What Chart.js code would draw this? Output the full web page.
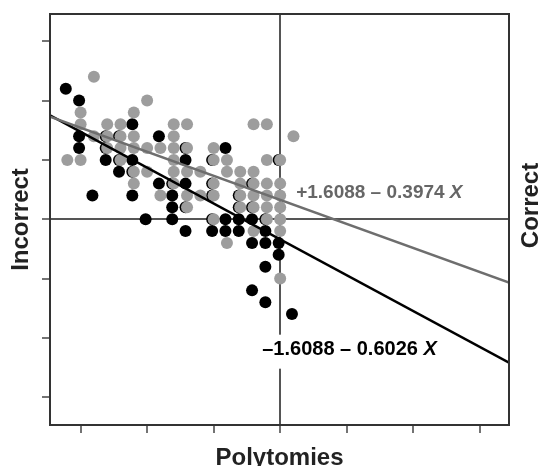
<!DOCTYPE html>
<html>
<head>
<meta charset="utf-8">
<script src="https://cdn.jsdelivr.net/npm/chart.js@4/dist/chart.umd.min.js"></script>
<style>
  html, body { margin: 0; padding: 0; background: #fff; overflow: hidden; }
  #wrap { width: 539px; height: 466px; }
</style>
</head>
<body>
<div id="wrap"><canvas id="chart" width="539" height="466"></canvas></div>
<script>
  "use strict";

  // axis ranges and tick positions (only tick marks are shown)
  const xRange = [-3.46, 3.44];
  const yRange = [-3.47, 3.46];
  const xTicks = [-3, -2, -1, 0, 1, 2, 3];
  const yTicks = [-3, -2, -1, 0, 1, 2, 3];

  // gray points ("Correct"), [x, y]
  const grayPoints = [
    [-2.8, 2.4],
    [-2.0, 2.0],
    [-3.0, 1.8], [-2.2, 1.8],
    [-3.0, 1.6], [-2.6, 1.6], [-2.4, 1.6], [-1.6, 1.6], [-1.4, 1.6], [-0.4, 1.6], [-0.2, 1.6],
    [-2.8, 1.4], [-2.6, 1.4], [-2.4, 1.4], [-2.2, 1.4], [-1.6, 1.4], [0.2, 1.4],
    [-2.6, 1.2], [-2.4, 1.2], [-2.2, 1.2], [-2.0, 1.2], [-1.8, 1.2], [-1.6, 1.2], [-1.4, 1.2], [-1.0, 1.2],
    [-3.2, 1.0], [-3.0, 1.0], [-2.4, 1.0], [-1.6, 1.0], [-1.0, 1.0], [-0.8, 1.0], [-0.2, 1.0], [0, 1.0],
    [-2.2, 0.8], [-2.0, 0.8], [-1.6, 0.8], [-1.4, 0.8], [-1.2, 0.8], [-0.8, 0.8], [-0.6, 0.8], [-0.4, 0.8],
    [-2.2, 0.6], [-1.6, 0.6], [-1.0, 0.6], [-0.6, 0.6], [-0.4, 0.6], [-0.2, 0.6], [0, 0.6],
    [-1.8, 0.4], [-1.4, 0.4], [-1.2, 0.4], [-1.0, 0.4], [-0.6, 0.4], [-0.4, 0.4], [-0.2, 0.4], [0, 0.4],
    [-1.4, 0.2], [-0.6, 0.2], [-0.4, 0.2], [-0.2, 0.2], [0, 0.2],
    [-1.0, 0], [-0.2, 0], [0, 0],
    [-0.4, -0.2], [0, -0.2],
    [-0.8, -0.4],
    [0, -1.0]
  ];

  // black points ("Incorrect"), [x, y]
  const blackPoints = [
    [-3.2, 2.2],
    [-3.0, 2.0],
    [-2.2, 1.6],
    [-3.0, 1.4], [-2.6, 1.4], [-2.4, 1.4], [-1.8, 1.4],
    [-3.0, 1.2], [-2.6, 1.2], [-1.4, 1.2], [-0.8, 1.2],
    [-2.6, 1.0], [-2.4, 1.0], [-2.2, 1.0], [-1.4, 1.0], [-1.0, 1.0], [0, 1.0],
    [-2.4, 0.8], [-2.2, 0.8],
    [-1.8, 0.6], [-1.6, 0.6], [-1.4, 0.6], [-1.0, 0.6], [-0.4, 0.6],
    [-2.8, 0.4], [-2.2, 0.4], [-1.6, 0.4], [-1.0, 0.4], [-0.6, 0.4],
    [-1.6, 0.2], [-1.4, 0.2], [-0.6, 0.2], [-0.4, 0.2],
    [-2.0, 0], [-1.6, 0], [-1.0, 0], [-0.8, 0], [-0.6, 0], [-0.4, 0], [-0.2, 0],
    [-1.4, -0.2], [-1.0, -0.2], [-0.8, -0.2], [-0.6, -0.2], [-0.2, -0.2],
    [-0.4, -0.4], [-0.2, -0.4], [0, -0.4],
    [0, -0.6],
    [-0.2, -0.8],
    [-0.4, -1.2],
    [-0.2, -1.4],
    [0.2, -1.6]
  ];

  // fitted lines, end points read at the plot edges
  const grayLine = [[-3.46, 1.73], [3.44, -1.07]];
  const blackLine = [[-3.46, 1.75], [3.44, -2.42]];

  const fitLabels = [
    { main: "+1.6088 \u2013 0.3974", italic: "X" },
    { main: "\u20131.6088 \u2013 0.6026", italic: "X" }
  ];

  const FONT = "'Liberation Sans', Arial, sans-serif";

  function toXY(list) {
    return list.map(([x, y]) => ({ x, y }));
  }

  function fixedTicks(values) {
    return (scale) => {
      scale.ticks = values.map((value) => ({ value }));
    };
  }

  const zeroGrid = (ctx) => (ctx.tick && ctx.tick.value === 0 ? "#555" : "rgba(0,0,0,0)");

  // black dots sit a hair left of the gray ones where both fall on the same cell
  const nudgePlugin = {
    id: "nudge",
    beforeDatasetDraw(chart, args) {
      if (chart.data.datasets[args.index].label !== "Incorrect") return;
      chart.ctx.save();
      chart.ctx.translate(-1.5, 0);
    },
    afterDatasetDraw(chart, args) {
      if (chart.data.datasets[args.index].label !== "Incorrect") return;
      chart.ctx.restore();
    }
  };

  const framePlugin = {
    id: "frame",
    afterDatasetsDraw(chart) {
      const { ctx, chartArea: a, scales } = chart;
      ctx.save();
      ctx.strokeStyle = "#333";
      ctx.lineWidth = 2;
      ctx.strokeRect(a.left, a.top, a.right - a.left, a.bottom - a.top);

      // equation labels
      const spots = [
        { x: 0.24, y: 0.44, color: "#666", size: 19, box: false },
        { x: -0.27, y: -2.2, color: "#000", size: 20, box: true }
      ];
      ctx.textBaseline = "middle";
      ctx.textAlign = "left";
      spots.forEach((spot, i) => {
        const label = fitLabels[i];
        const px = scales.x.getPixelForValue(spot.x);
        const py = scales.y.getPixelForValue(spot.y);
        const plain = "bold " + spot.size + "px " + FONT;
        const slanted = "italic bold " + spot.size + "px " + FONT;
        ctx.font = plain;
        const w1 = ctx.measureText(label.main + " ").width;
        ctx.font = slanted;
        const w2 = ctx.measureText(label.italic).width;
        if (spot.box) {
          ctx.fillStyle = "#fff";
          ctx.fillRect(px - 3, py - 15, w1 + w2 + 6, 34);
        }
        ctx.fillStyle = spot.color;
        ctx.font = plain;
        ctx.fillText(label.main, px, py);
        ctx.font = slanted;
        ctx.fillText(label.italic, px + w1, py);
      });

      // right-hand axis title
      ctx.fillStyle = "#222";
      ctx.font = "bold 24px " + FONT;
      ctx.textAlign = "center";
      ctx.textBaseline = "alphabetic";
      ctx.translate(538, (a.top + a.bottom) / 2 - 14);
      ctx.rotate(-Math.PI / 2);
      ctx.fillText("Correct", 0, 0);
      ctx.restore();
    }
  };

  new Chart(document.getElementById("chart"), {
    type: "scatter",
    data: {
      datasets: [
        {
          label: "fit correct",
          data: toXY(grayLine),
          showLine: true,
          borderColor: "#6e6e6e",
          borderWidth: 2.5,
          pointRadius: 0,
          order: 0
        },
        {
          label: "fit incorrect",
          data: toXY(blackLine),
          showLine: true,
          borderColor: "#000",
          borderWidth: 2.5,
          pointRadius: 0,
          order: 0
        },
        {
          label: "Correct",
          data: toXY(grayPoints),
          backgroundColor: "#9d9d9d",
          borderWidth: 0,
          pointRadius: 6,
          order: 1
        },
        {
          label: "Incorrect",
          data: toXY(blackPoints),
          backgroundColor: "#000",
          borderWidth: 0,
          pointRadius: 6,
          order: 2
        }
      ]
    },
    options: {
      responsive: false,
      animation: false,
      layout: { padding: { left: 0, top: 14, right: 30, bottom: 0 } },
      plugins: { legend: { display: false }, tooltip: { enabled: false } },
      scales: {
        x: {
          type: "linear",
          min: xRange[0],
          max: xRange[1],
          afterBuildTicks: fixedTicks(xTicks),
          ticks: { display: false },
          border: { display: false },
          grid: { color: zeroGrid, lineWidth: 2, tickColor: "#444", tickWidth: 1.5, tickLength: 8 },
          title: {
            display: true,
            text: "Polytomies",
            color: "#222",
            font: { family: FONT, size: 24, weight: "bold", lineHeight: 1 },
            padding: { top: 13, bottom: -4 }
          }
        },
        y: {
          type: "linear",
          min: yRange[0],
          max: yRange[1],
          afterBuildTicks: fixedTicks(yTicks),
          ticks: { display: false },
          border: { display: false },
          grid: { color: zeroGrid, lineWidth: 2, tickColor: "#444", tickWidth: 1.5, tickLength: 8 },
          title: {
            display: true,
            text: "Incorrect",
            color: "#222",
            font: { family: FONT, size: 24, weight: "bold", lineHeight: 1 },
            padding: { top: 9, bottom: 9 }
          }
        }
      }
    },
    plugins: [nudgePlugin, framePlugin]
  });
</script>
</body>
</html>
